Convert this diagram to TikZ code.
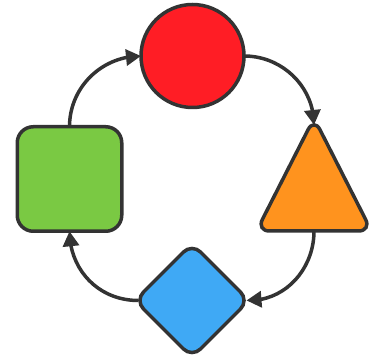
\documentclass[tikz,border=0pt]{standalone}
\usetikzlibrary{shapes.geometric,arrows.meta,bending}
\definecolor{ink}{HTML}{333333}
\definecolor{cred}{HTML}{FF1D25}
\definecolor{cgreen}{HTML}{7AC943}
\definecolor{corange}{HTML}{FF931E}
\definecolor{cblue}{HTML}{3FA9F5}
\tikzset{
  shapebase/.style={draw=ink,line width=3.5pt,inner sep=0pt,outer sep=0pt},
  link/.style={draw=ink,line width=3.5pt,-{Triangle[length=15pt,width=16pt,flex]}},
}
\begin{document}
\begin{tikzpicture}[x=1pt,y=1pt]
\useasboundingbox (0,0) rectangle (374,361);
\node[shapebase,circle,fill=cred,minimum size=103pt] (c) at (192.5,305) {};
\node[shapebase,isosceles triangle,isosceles triangle stretches,shape border rotate=90,
      minimum width=115pt,minimum height=113pt,rounded corners=13pt,fill=corange,anchor=apex] (t) at (314,243) {};
\node[shapebase,diamond,minimum width=114pt,minimum height=114pt,rounded corners=12pt,fill=cblue] (d) at (192,60.5) {};
\node[shapebase,rectangle,minimum width=104.5pt,minimum height=104.5pt,rounded corners=16pt,fill=cgreen] (s) at (69.5,182) {};
\draw[link] (c.east) to[out=0,in=90] ([yshift=-7pt]t.apex);
\draw[link,shorten >=-2.5pt] (t.south) to[out=-90,in=0] (d.east);
\draw[link,shorten <=-3.5pt] (d.west) to[out=180,in=-90] (s.south);
\draw[link] (s.north) to[out=90,in=180] (c.west);
\end{tikzpicture}
\end{document}
